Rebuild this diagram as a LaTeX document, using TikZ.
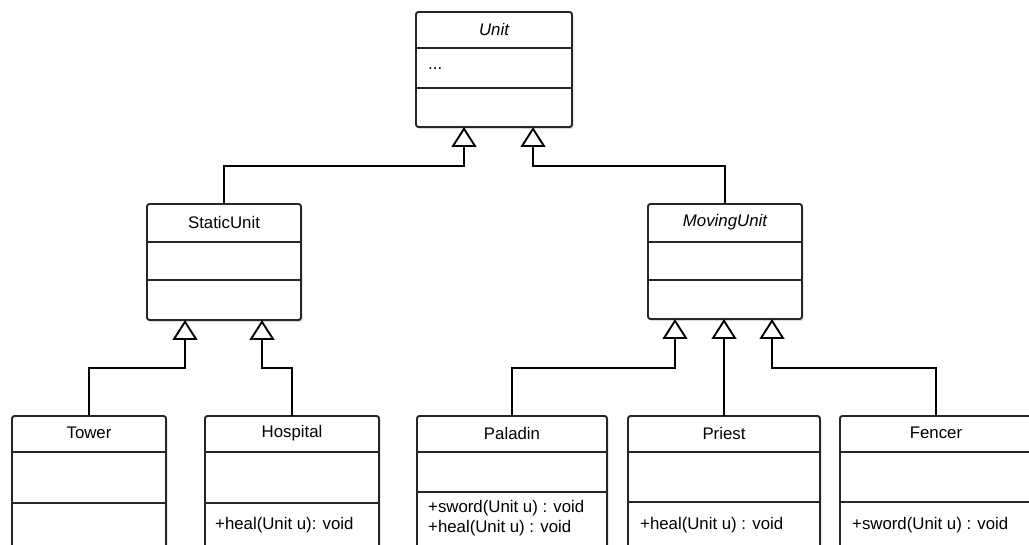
\documentclass[tikz,border=0pt]{standalone}
\usepackage{fontspec}
\setmainfont{Liberation Sans}
\usetikzlibrary{arrows.meta,shadows}
\definecolor{edge}{RGB}{38,38,38}
\newcommand\umlfont{\fontsize{16.8}{20}\selectfont}
\begin{document}
\begin{tikzpicture}[x=1pt,y=-1pt,
  umlbox/.style={draw=edge, line width=1.9pt, rounded corners=2.5pt, fill=white,
    anchor=north west, inner sep=0pt, outer sep=0pt,
    drop shadow={shadow xshift=1.5pt,shadow yshift=-2pt,opacity=0.3}},
  title/.style={font=\umlfont, anchor=center, inner sep=0pt},
  ititle/.style={font=\umlfont\itshape, anchor=center, inner sep=0pt},
  member/.style={font=\umlfont, anchor=west, inner sep=0pt},
  divider/.style={draw=edge, line width=1.9pt},
  gen/.style={draw=black, line width=1.9pt,
    -{Triangle[length=20pt,width=25pt,fill=white,line join=miter]}}]
\clip (0,0) rectangle (1029,545);
\fill[white] (0,0) rectangle (1029,545);

% boxes
\node[umlbox, minimum width=156pt, minimum height=115pt] (unit) at (416,12) {};
\node[umlbox, minimum width=154pt, minimum height=116pt] (static) at (147,204) {};
\node[umlbox, minimum width=154pt, minimum height=115pt] (moving) at (648,204) {};
\node[umlbox, minimum width=154pt, minimum height=160pt] (tower) at (12,416) {};
\node[umlbox, minimum width=174pt, minimum height=160pt] (hospital) at (205,416) {};
\node[umlbox, minimum width=190pt, minimum height=160pt] (paladin) at (417,416) {};
\node[umlbox, minimum width=192pt, minimum height=160pt] (priest) at (628,416) {};
\node[umlbox, minimum width=192pt, minimum height=160pt] (fencer) at (840,416) {};

% dividers
\draw[divider] (unit.west |- 0,48) -- (unit.east |- 0,48);
\draw[divider] (unit.west |- 0,88) -- (unit.east |- 0,88);
\draw[divider] (static.west |- 0,242) -- (static.east |- 0,242);
\draw[divider] (static.west |- 0,280) -- (static.east |- 0,280);
\draw[divider] (moving.west |- 0,242) -- (moving.east |- 0,242);
\draw[divider] (moving.west |- 0,280) -- (moving.east |- 0,280);
\draw[divider] (tower.west |- 0,452) -- (tower.east |- 0,452);
\draw[divider] (tower.west |- 0,503) -- (tower.east |- 0,503);
\draw[divider] (hospital.west |- 0,452) -- (hospital.east |- 0,452);
\draw[divider] (hospital.west |- 0,503) -- (hospital.east |- 0,503);
\draw[divider] (paladin.west |- 0,452) -- (paladin.east |- 0,452);
\draw[divider] (paladin.west |- 0,492) -- (paladin.east |- 0,492);
\draw[divider] (priest.west |- 0,452) -- (priest.east |- 0,452);
\draw[divider] (priest.west |- 0,502) -- (priest.east |- 0,502);
\draw[divider] (fencer.west |- 0,452) -- (fencer.east |- 0,452);
\draw[divider] (fencer.west |- 0,502) -- (fencer.east |- 0,502);

% titles
\node[ititle] (unit-t) at (unit.north |- 0,29) {Unit};
\node[title] (static-t) at (static.north |- 0,222) {StaticUnit};
\node[ititle] (moving-t) at (moving.north |- 0,222) {MovingUnit};
\node[title] (tower-t) at (tower.north |- 0,433) {Tower};
\node[title] (hospital-t) at (hospital.north |- 0,433) {Hospital};
\node[title] (paladin-t) at (paladin.north |- 0,433) {Paladin};
\node[title] (priest-t) at (priest.north |- 0,433) {Priest};
\node[title] (fencer-t) at (fencer.north |- 0,433) {Fencer};

% members
\node[member] (unit-a) at (428,69) {...};
\node[member] (hospital-m) at (215,525) {+heal(Unit u): void};
\node[member] (paladin-m1) at (428,508) {+sword(Unit u) : void};
\node[member] (paladin-m2) at (428,528) {+heal(Unit u) : void};
\node[member] (priest-m) at (640,525) {+heal(Unit u) : void};
\node[member] (fencer-m) at (852,525) {+sword(Unit u) : void};

% arrow tips
\coordinate (ua) at ([xshift=48pt]unit.south west);
\coordinate (ub) at ([xshift=117pt]unit.south west);
\coordinate (sa) at ([xshift=38pt]static.south west);
\coordinate (sb) at ([xshift=115pt]static.south west);
\coordinate (ma) at ([xshift=27pt]moving.south west);
\coordinate (mb) at ([xshift=76pt]moving.south west);
\coordinate (mc) at ([xshift=124pt]moving.south west);

% generalizations
\draw[gen] (static.north) |- ([yshift=-39pt]ua) -- (ua);
\draw[gen] (moving.north) |- ([yshift=-39pt]ub) -- (ub);
\draw[gen] (tower.north) |- ([yshift=-48pt]sa) -- (sa);
\draw[gen] (hospital.north) |- ([yshift=-48pt]sb) -- (sb);
\draw[gen] (paladin.north) |- ([yshift=-49pt]ma) -- (ma);
\draw[gen] (priest.north) -- (mb);
\draw[gen] (fencer.north) |- ([yshift=-49pt]mc) -- (mc);
\end{tikzpicture}
\end{document}
